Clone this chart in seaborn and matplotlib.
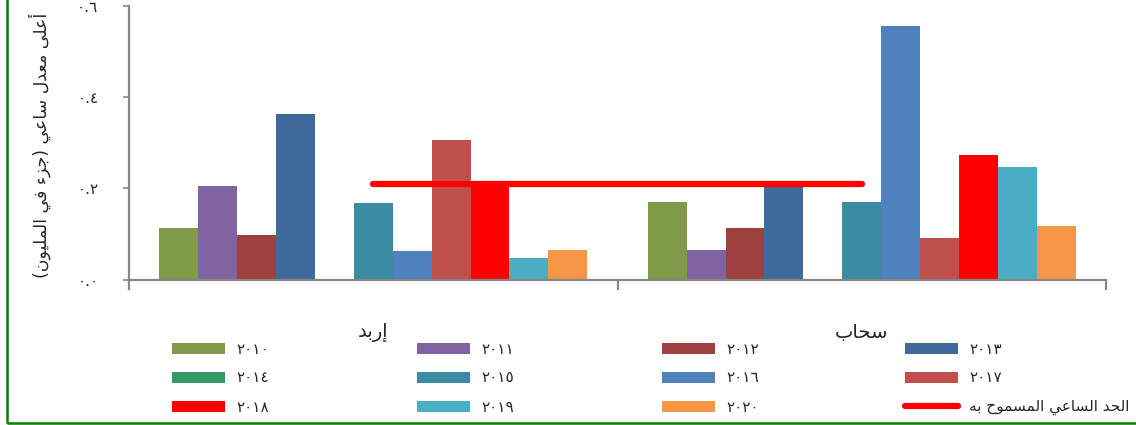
import numpy as np
import pandas as pd
import seaborn as sns
import matplotlib
matplotlib.use("Agg")
import matplotlib.pyplot as plt
from matplotlib.patches import Patch, Rectangle
from matplotlib.lines import Line2D

# ---- data -------------------------------------------------------------
sites = ["إربد", "سحاب"]
years = ["٢٠١٠", "٢٠١١", "٢٠١٢", "٢٠١٣", "٢٠١٤", "٢٠١٥",
         "٢٠١٦", "٢٠١٧", "٢٠١٨", "٢٠١٩", "٢٠٢٠"]
irbid = [0.113, 0.205, 0.098, 0.364, np.nan, 0.168, 0.062, 0.306, 0.207, 0.047, 0.065]
sahab = [0.170, 0.064, 0.112, 0.205, np.nan, 0.170, 0.556, 0.091, 0.274, 0.247, 0.117]
limit = [0.21, 0.21]
limit_label = "الحد الساعي المسموح به"
y_label = "أعلى معدل ساعي (جزء في المليون)"
y_ticks = [0.0, 0.2, 0.4, 0.6]
y_tick_labels = ["٠.٠", "٠.٢", "٠.٤", "٠.٦"]

colors = ["#7F9A48", "#8064A2", "#9E413E", "#40699C", "#349966", "#3B8BA2",
          "#4F81BD", "#C0504D", "#FF0000", "#4BACC6", "#F79646"]

# ---- minimal Arabic shaping (contextual forms + visual order) ---------
FORMS = {
    "ء": ("\uFE80",),
    "أ": ("\uFE83", "\uFE84"),
    "إ": ("\uFE87", "\uFE88"),
    "ا": ("\uFE8D", "\uFE8E"),
    "ب": ("\uFE8F", "\uFE90", "\uFE91", "\uFE92"),
    "ج": ("\uFE9D", "\uFE9E", "\uFE9F", "\uFEA0"),
    "ح": ("\uFEA1", "\uFEA2", "\uFEA3", "\uFEA4"),
    "د": ("\uFEA9", "\uFEAA"),
    "ر": ("\uFEAD", "\uFEAE"),
    "ز": ("\uFEAF", "\uFEB0"),
    "س": ("\uFEB1", "\uFEB2", "\uFEB3", "\uFEB4"),
    "ع": ("\uFEC9", "\uFECA", "\uFECB", "\uFECC"),
    "ف": ("\uFED1", "\uFED2", "\uFED3", "\uFED4"),
    "ل": ("\uFEDD", "\uFEDE", "\uFEDF", "\uFEE0"),
    "م": ("\uFEE1", "\uFEE2", "\uFEE3", "\uFEE4"),
    "ن": ("\uFEE5", "\uFEE6", "\uFEE7", "\uFEE8"),
    "ه": ("\uFEE9", "\uFEEA", "\uFEEB", "\uFEEC"),
    "و": ("\uFEED", "\uFEEE"),
    "ى": ("\uFEEF", "\uFEF0"),
    "ي": ("\uFEF1", "\uFEF2", "\uFEF3", "\uFEF4"),
}
MIRROR = {"(": ")", ")": "("}


def shape(text):
    out = []
    n = len(text)
    for i, ch in enumerate(text):
        if ch not in FORMS:
            out.append(ch)
            continue
        f = FORMS[ch]
        prev = i > 0 and text[i - 1] in FORMS and len(FORMS[text[i - 1]]) == 4
        nxt = (len(f) == 4 and i + 1 < n and text[i + 1] in FORMS
               and len(FORMS[text[i + 1]]) > 1)
        if prev and nxt:
            out.append(f[3])
        elif prev:
            out.append(f[1] if len(f) > 1 else f[0])
        elif nxt:
            out.append(f[2])
        else:
            out.append(f[0])
    return "".join(MIRROR.get(c, c) for c in reversed(out))


# ---- long-form table --------------------------------------------------
df = pd.DataFrame({
    "site": [shape(sites[0])] * len(years) + [shape(sites[1])] * len(years),
    "year": years * 2,
    "value": irbid + sahab,
})

sns.set_style("white")
plt.rcParams["font.family"] = ["DejaVu Sans"]

W, H = 1136, 425
fig = plt.figure(figsize=(W / 100, H / 100), dpi=100)
ax = fig.add_axes([129 / W, 1 - 279.5 / H, (1106 - 129) / W, (279.5 - 6) / H])

sns.barplot(data=df, x="site", y="value", hue="year", hue_order=years,
            palette=colors, saturation=1, width=0.876, linewidth=0,
            legend=False, ax=ax)
sns.lineplot(x=[0, 1], y=limit, color="#FF0000", linewidth=4.5,
             solid_capstyle="round", ax=ax, legend=False)

ax.set_xlim(-0.5, 1.5)
ax.set_ylim(0, 0.6)
ax.set_xlabel("")
ax.set_ylabel(shape(y_label), fontsize=12.5, labelpad=19)
ax.yaxis.label.set_y(0.49)
ax.set_yticks(y_ticks)
ax.set_yticklabels(y_tick_labels, fontsize=11)
ax.set_xticks([0, 1])
ax.set_xticklabels([shape(s) for s in sites], fontsize=14)
ax.set_xticks([-0.5, 0.5, 1.5], minor=True)

grey = "#868686"
for side in ("top", "right"):
    ax.spines[side].set_visible(False)
for side in ("left", "bottom"):
    ax.spines[side].set_color(grey)
    ax.spines[side].set_linewidth(1.6)
ax.tick_params(axis="y", direction="out", length=4, width=1.2, color=grey,
               pad=18, left=True)
ax.tick_params(axis="x", which="major", length=0, pad=31)
ax.tick_params(axis="x", which="minor", direction="out", length=7.5,
               width=1.6, color=grey, bottom=True)

# ---- legend: 4 columns x 3 rows, filled row by row ---------------------
handles = [Patch(facecolor=c, edgecolor="none") for c in colors]
handles.append(Line2D([], [], color="#FF0000", linewidth=4.5,
                      solid_capstyle="round"))
labels = years + [shape(limit_label)]
col_x = [172, 417, 662, 905]
row_y = [349, 378, 407]
for k, (h, lab) in enumerate(zip(handles, labels)):
    r, c = divmod(k, 4)
    fig.legend([h], [lab], loc="center left",
               bbox_to_anchor=(col_x[c] / W, 1 - row_y[r] / H),
               frameon=False, fontsize=11, borderpad=0, borderaxespad=0,
               handlelength=3.5, handleheight=0.7, handletextpad=0.7)

# ---- green outer frame ------------------------------------------------
fig.patches.append(Rectangle((7 / W, 2 / H), 2, 2, transform=fig.transFigure,
                             fill=False, edgecolor="#008000", linewidth=1.8))

fig.savefig("out.png", dpi=100)
